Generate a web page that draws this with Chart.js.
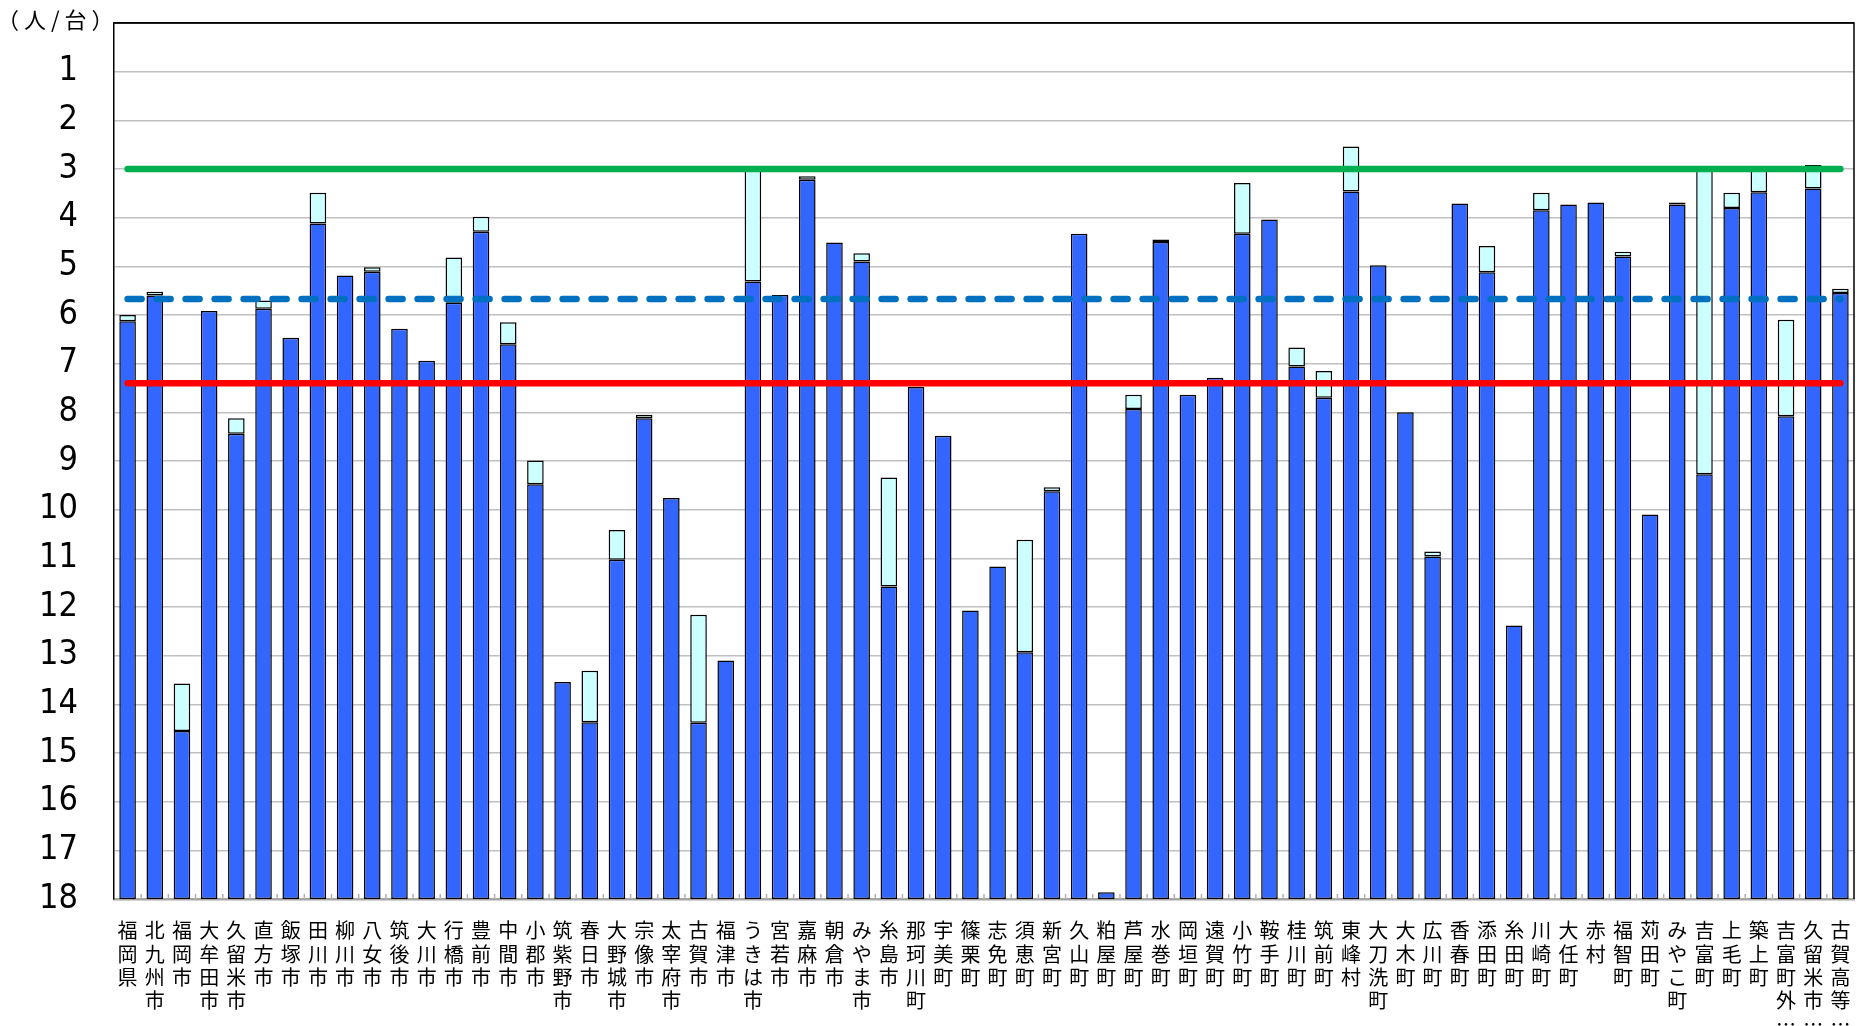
<!DOCTYPE html>
<html lang="ja">
<head>
<meta charset="utf-8">
<script src="https://cdn.jsdelivr.net/npm/chart.js@4.4.1/dist/chart.umd.min.js"></script>
<style>
  html, body { margin: 0; padding: 0; background: #fff; }
  #wrap { position: relative; width: 1861px; height: 1026px; overflow: hidden; }
  #unit { position: absolute; left: -3px; top: 2px; font: 22px "Noto Sans CJK JP"; letter-spacing: 5px; color: #000; }
</style>
</head>
<body>
<div id="wrap">
  <canvas id="chart" width="1861" height="1026"></canvas>
  <div id="unit">（人/台）</div>
</div>
<script>
const categories = [
  "福岡県", "北九州市", "福岡市", "大牟田市", "久留米市", "直方市", "飯塚市", "田川市",
  "柳川市", "八女市", "筑後市", "大川市", "行橋市", "豊前市", "中間市", "小郡市",
  "筑紫野市", "春日市", "大野城市", "宗像市", "太宰府市", "古賀市", "福津市", "うきは市",
  "宮若市", "嘉麻市", "朝倉市", "みやま市", "糸島市", "那珂川町", "宇美町", "篠栗町",
  "志免町", "須恵町", "新宮町", "久山町", "粕屋町", "芦屋町", "水巻町", "岡垣町",
  "遠賀町", "小竹町", "鞍手町", "桂川町", "筑前町", "東峰村", "大刀洗町", "大木町",
  "広川町", "香春町", "添田町", "糸田町", "川崎町", "大任町", "赤村", "福智町",
  "苅田町", "みやこ町", "吉富町", "上毛町", "築上町", "吉富町外…", "久留米市…", "古賀高等…"
];

// main series (blue): value
const mainValues = [
  6.13, 5.60, 14.55, 5.92, 8.44, 5.87, 6.47, 4.12,
  5.19, 5.11, 6.28, 6.94, 5.75, 4.29, 6.60, 9.48,
  13.54, 14.37, 11.03, 8.12, 9.76, 14.38, 13.10, 5.31,
  5.59, 3.22, 4.51, 4.90, 11.58, 7.48, 8.48, 12.07,
  11.17, 12.93, 9.62, 4.33, 17.86, 7.93, 4.50, 7.64,
  7.29, 4.33, 4.04, 7.06, 7.70, 3.46, 4.98, 8.00,
  10.96, 3.71, 5.12, 12.38, 3.85, 3.73, 3.69, 4.80,
  10.10, 3.73, 9.27, 3.80, 3.48, 8.08, 3.40, 5.55
];

// second series (light cyan): where its box ends, null when absent
const extraValues = [
  6.00, 5.52, 13.57, null, 8.12, 5.70, null, 3.49,
  null, 5.02, null, null, 4.82, 3.98, 6.15, 8.99,
  null, 13.31, 10.42, 8.05, null, 12.16, null, 2.98,
  null, 3.15, null, 4.73, 9.34, null, null, null,
  null, 10.62, 9.54, null, null, 7.64, 4.45, null,
  null, 3.29, null, 6.67, 7.15, 2.54, null, null,
  10.86, null, 4.58, null, 3.49, null, null, 4.70,
  null, 3.69, 2.98, 3.49, 2.95, 6.10, 2.92, 5.46
];

const greenLevel = 3.0;
const blueLevel = 5.67;
const redLevel = 7.4;
const axisMax = 18;

const first = categories[0];
const last = categories[categories.length - 1];

// inner tick marks on the bottom axis + black frame on top/right
const frame = {
  id: "frame",
  beforeDatasetsDraw(chart) {
    const { ctx, chartArea, scales } = chart;
    ctx.save();
    ctx.strokeStyle = "#b0b0b0";
    ctx.lineWidth = 1.5;
    for (let i = 0; i < categories.length - 1; i++) {
      const x = (scales.x.getPixelForValue(i) + scales.x.getPixelForValue(i + 1)) / 2;
      ctx.beginPath();
      ctx.moveTo(x, chartArea.bottom);
      ctx.lineTo(x, chartArea.bottom - 5);
      ctx.stroke();
    }
    ctx.restore();
  },
  afterDraw(chart) {
    const { ctx, chartArea } = chart;
    ctx.save();
    ctx.strokeStyle = "#000";
    ctx.lineWidth = 1.5;
    ctx.beginPath();
    ctx.moveTo(chartArea.left, chartArea.top);
    ctx.lineTo(chartArea.right, chartArea.top);
    ctx.lineTo(chartArea.right, chartArea.bottom);
    ctx.stroke();
    ctx.restore();
  }
};

function refLine(level, color, dash) {
  return {
    type: "line",
    data: [{ x: first, y: level }, { x: last, y: level }],
    borderColor: color,
    borderWidth: 6.5,
    borderCapStyle: "round",
    borderDash: dash || [],
    pointRadius: 0,
    fill: false,
    order: 0
  };
}

new Chart(document.getElementById("chart"), {
  type: "bar",
  data: {
    labels: categories,
    datasets: [
      refLine(greenLevel, "#00b050"),
      refLine(blueLevel, "#0070c0", [14, 15]),
      refLine(redLevel, "#ff0000"),
      {
        data: mainValues.map(v => [axisMax, v]),
        backgroundColor: "#3366ff",
        borderColor: "#000",
        borderWidth: 1.5,
        borderSkipped: false,
        grouped: false,
        barPercentage: 0.61,
        categoryPercentage: 1,
        order: 2
      },
      {
        data: extraValues.map((v, i) => v === null ? null : [mainValues[i], v]),
        backgroundColor: "#ccffff",
        borderColor: "#000",
        borderWidth: 1.5,
        borderSkipped: false,
        grouped: false,
        barPercentage: 0.61,
        categoryPercentage: 1,
        order: 1
      }
    ]
  },
  options: {
    responsive: false,
    animation: false,
    layout: { padding: { top: 23, right: 7, left: 0, bottom: 0 } },
    plugins: { legend: { display: false }, tooltip: { enabled: false } },
    scales: {
      x: {
        grid: { display: false, drawTicks: false },
        border: { color: "#a6a6a6", width: 2.5 },
        ticks: {
          autoSkip: false,
          maxRotation: 0,
          minRotation: 0,
          padding: 20,
          color: "#000",
          font: { family: "'Noto Sans CJK JP'", size: 20, lineHeight: 1.17 },
          callback: v => categories[v].split("")
        },
        afterFit: s => { s.height = 127; s.paddingLeft = 0; s.paddingRight = 0; }
      },
      y: {
        reverse: true,
        min: 0,
        max: axisMax,
        ticks: {
          stepSize: 1,
          padding: 36,
          color: "#000",
          font: { family: "'DejaVu Sans Condensed', 'DejaVu Sans'", size: 34 },
          callback: v => v === 0 ? "" : v
        },
        grid: {
          color: c => c.tick && c.tick.value === 0 ? "#000" : "#c0c0c0",
          lineWidth: 1.5,
          drawTicks: false
        },
        border: { color: "#000", width: 1.5 },
        afterFit: s => { s.width = 114; s.paddingTop = 0; s.paddingBottom = 0; }
      }
    }
  },
  plugins: [frame]
});
</script>
</body>
</html>
